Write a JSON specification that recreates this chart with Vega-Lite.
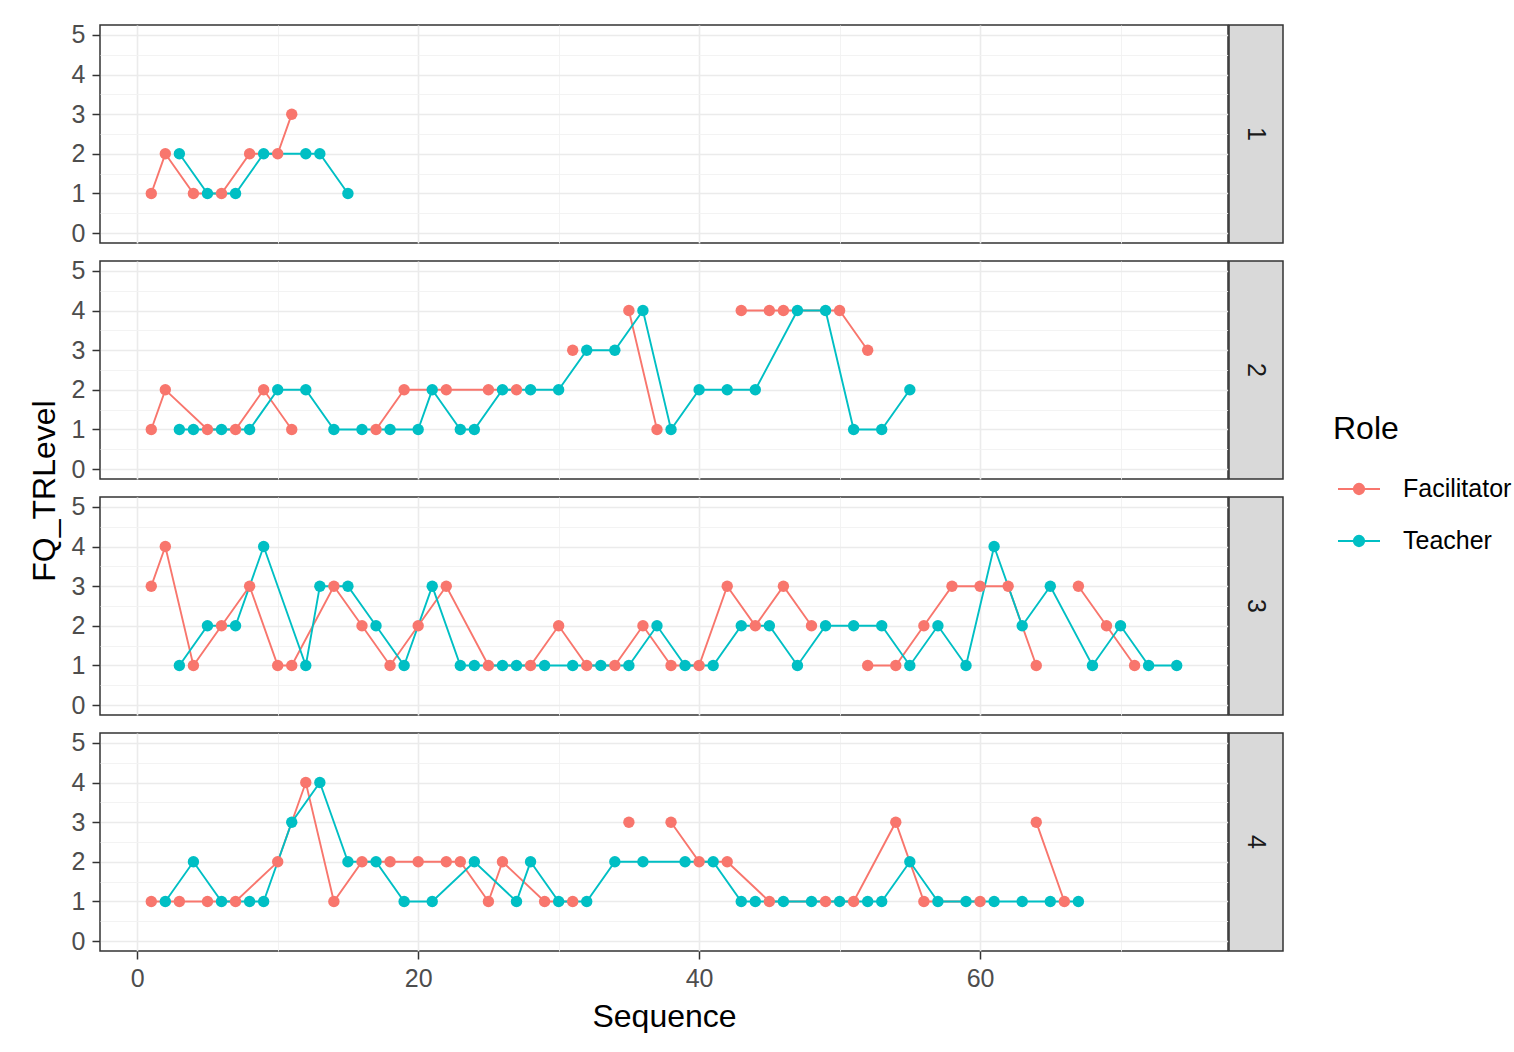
{
  "$schema": "https://vega.github.io/schema/vega-lite/v6.json",
  "padding": {"left": 29, "top": 22, "right": 0, "bottom": 0},
  "autosize": {"type": "pad"},
  "config": {
    "font": "Liberation Sans",
    "view": {"stroke": "#333333", "strokeWidth": 1.5},
    "axis": {"labelFontSize": 25, "labelColor": "#4D4D4D", "titleFontSize": 32, "titleFontWeight": "normal", "titleColor": "#000000", "tickColor": "#333333", "tickWidth": 1.5, "tickSize": 8, "domain": false, "labelPadding": 7}
  },
  "datasets": {
    "strips": [{"Group": 1}, {"Group": 2}, {"Group": 3}, {"Group": 4}],
    "ytitle": [{"t": "FQ_TRLevel"}],
    "d": [
      {"Group":1,"Role":"Facilitator","Sequence":1,"FQ_TRLevel":1},
      {"Group":1,"Role":"Facilitator","Sequence":2,"FQ_TRLevel":2},
      {"Group":1,"Role":"Facilitator","Sequence":4,"FQ_TRLevel":1},
      {"Group":1,"Role":"Facilitator","Sequence":6,"FQ_TRLevel":1},
      {"Group":1,"Role":"Facilitator","Sequence":8,"FQ_TRLevel":2},
      {"Group":1,"Role":"Facilitator","Sequence":10,"FQ_TRLevel":2},
      {"Group":1,"Role":"Facilitator","Sequence":11,"FQ_TRLevel":3},
      {"Group":1,"Role":"Teacher","Sequence":3,"FQ_TRLevel":2},
      {"Group":1,"Role":"Teacher","Sequence":5,"FQ_TRLevel":1},
      {"Group":1,"Role":"Teacher","Sequence":7,"FQ_TRLevel":1},
      {"Group":1,"Role":"Teacher","Sequence":9,"FQ_TRLevel":2},
      {"Group":1,"Role":"Teacher","Sequence":12,"FQ_TRLevel":2},
      {"Group":1,"Role":"Teacher","Sequence":13,"FQ_TRLevel":2},
      {"Group":1,"Role":"Teacher","Sequence":15,"FQ_TRLevel":1},

      {"Group":2,"Role":"Facilitator","Sequence":1,"FQ_TRLevel":1},
      {"Group":2,"Role":"Facilitator","Sequence":2,"FQ_TRLevel":2},
      {"Group":2,"Role":"Facilitator","Sequence":5,"FQ_TRLevel":1},
      {"Group":2,"Role":"Facilitator","Sequence":7,"FQ_TRLevel":1},
      {"Group":2,"Role":"Facilitator","Sequence":9,"FQ_TRLevel":2},
      {"Group":2,"Role":"Facilitator","Sequence":11,"FQ_TRLevel":1},
      {"Group":2,"Role":"Facilitator","Sequence":15,"FQ_TRLevel":null},
      {"Group":2,"Role":"Facilitator","Sequence":17,"FQ_TRLevel":1},
      {"Group":2,"Role":"Facilitator","Sequence":19,"FQ_TRLevel":2},
      {"Group":2,"Role":"Facilitator","Sequence":22,"FQ_TRLevel":2},
      {"Group":2,"Role":"Facilitator","Sequence":25,"FQ_TRLevel":2},
      {"Group":2,"Role":"Facilitator","Sequence":27,"FQ_TRLevel":2},
      {"Group":2,"Role":"Facilitator","Sequence":29,"FQ_TRLevel":null},
      {"Group":2,"Role":"Facilitator","Sequence":31,"FQ_TRLevel":3},
      {"Group":2,"Role":"Facilitator","Sequence":33,"FQ_TRLevel":null},
      {"Group":2,"Role":"Facilitator","Sequence":35,"FQ_TRLevel":4},
      {"Group":2,"Role":"Facilitator","Sequence":37,"FQ_TRLevel":1},
      {"Group":2,"Role":"Facilitator","Sequence":39,"FQ_TRLevel":null},
      {"Group":2,"Role":"Facilitator","Sequence":43,"FQ_TRLevel":4},
      {"Group":2,"Role":"Facilitator","Sequence":45,"FQ_TRLevel":4},
      {"Group":2,"Role":"Facilitator","Sequence":46,"FQ_TRLevel":4},
      {"Group":2,"Role":"Facilitator","Sequence":50,"FQ_TRLevel":4},
      {"Group":2,"Role":"Facilitator","Sequence":52,"FQ_TRLevel":3},
      {"Group":2,"Role":"Teacher","Sequence":3,"FQ_TRLevel":1},
      {"Group":2,"Role":"Teacher","Sequence":4,"FQ_TRLevel":1},
      {"Group":2,"Role":"Teacher","Sequence":6,"FQ_TRLevel":1},
      {"Group":2,"Role":"Teacher","Sequence":8,"FQ_TRLevel":1},
      {"Group":2,"Role":"Teacher","Sequence":10,"FQ_TRLevel":2},
      {"Group":2,"Role":"Teacher","Sequence":12,"FQ_TRLevel":2},
      {"Group":2,"Role":"Teacher","Sequence":14,"FQ_TRLevel":1},
      {"Group":2,"Role":"Teacher","Sequence":16,"FQ_TRLevel":1},
      {"Group":2,"Role":"Teacher","Sequence":18,"FQ_TRLevel":1},
      {"Group":2,"Role":"Teacher","Sequence":20,"FQ_TRLevel":1},
      {"Group":2,"Role":"Teacher","Sequence":21,"FQ_TRLevel":2},
      {"Group":2,"Role":"Teacher","Sequence":23,"FQ_TRLevel":1},
      {"Group":2,"Role":"Teacher","Sequence":24,"FQ_TRLevel":1},
      {"Group":2,"Role":"Teacher","Sequence":26,"FQ_TRLevel":2},
      {"Group":2,"Role":"Teacher","Sequence":28,"FQ_TRLevel":2},
      {"Group":2,"Role":"Teacher","Sequence":30,"FQ_TRLevel":2},
      {"Group":2,"Role":"Teacher","Sequence":32,"FQ_TRLevel":3},
      {"Group":2,"Role":"Teacher","Sequence":34,"FQ_TRLevel":3},
      {"Group":2,"Role":"Teacher","Sequence":36,"FQ_TRLevel":4},
      {"Group":2,"Role":"Teacher","Sequence":38,"FQ_TRLevel":1},
      {"Group":2,"Role":"Teacher","Sequence":40,"FQ_TRLevel":2},
      {"Group":2,"Role":"Teacher","Sequence":42,"FQ_TRLevel":2},
      {"Group":2,"Role":"Teacher","Sequence":44,"FQ_TRLevel":2},
      {"Group":2,"Role":"Teacher","Sequence":47,"FQ_TRLevel":4},
      {"Group":2,"Role":"Teacher","Sequence":49,"FQ_TRLevel":4},
      {"Group":2,"Role":"Teacher","Sequence":51,"FQ_TRLevel":1},
      {"Group":2,"Role":"Teacher","Sequence":53,"FQ_TRLevel":1},
      {"Group":2,"Role":"Teacher","Sequence":55,"FQ_TRLevel":2},

      {"Group":3,"Role":"Facilitator","Sequence":1,"FQ_TRLevel":3},
      {"Group":3,"Role":"Facilitator","Sequence":2,"FQ_TRLevel":4},
      {"Group":3,"Role":"Facilitator","Sequence":4,"FQ_TRLevel":1},
      {"Group":3,"Role":"Facilitator","Sequence":6,"FQ_TRLevel":2},
      {"Group":3,"Role":"Facilitator","Sequence":8,"FQ_TRLevel":3},
      {"Group":3,"Role":"Facilitator","Sequence":10,"FQ_TRLevel":1},
      {"Group":3,"Role":"Facilitator","Sequence":11,"FQ_TRLevel":1},
      {"Group":3,"Role":"Facilitator","Sequence":14,"FQ_TRLevel":3},
      {"Group":3,"Role":"Facilitator","Sequence":16,"FQ_TRLevel":2},
      {"Group":3,"Role":"Facilitator","Sequence":18,"FQ_TRLevel":1},
      {"Group":3,"Role":"Facilitator","Sequence":20,"FQ_TRLevel":2},
      {"Group":3,"Role":"Facilitator","Sequence":22,"FQ_TRLevel":3},
      {"Group":3,"Role":"Facilitator","Sequence":25,"FQ_TRLevel":1},
      {"Group":3,"Role":"Facilitator","Sequence":28,"FQ_TRLevel":1},
      {"Group":3,"Role":"Facilitator","Sequence":30,"FQ_TRLevel":2},
      {"Group":3,"Role":"Facilitator","Sequence":32,"FQ_TRLevel":1},
      {"Group":3,"Role":"Facilitator","Sequence":34,"FQ_TRLevel":1},
      {"Group":3,"Role":"Facilitator","Sequence":36,"FQ_TRLevel":2},
      {"Group":3,"Role":"Facilitator","Sequence":38,"FQ_TRLevel":1},
      {"Group":3,"Role":"Facilitator","Sequence":40,"FQ_TRLevel":1},
      {"Group":3,"Role":"Facilitator","Sequence":42,"FQ_TRLevel":3},
      {"Group":3,"Role":"Facilitator","Sequence":44,"FQ_TRLevel":2},
      {"Group":3,"Role":"Facilitator","Sequence":46,"FQ_TRLevel":3},
      {"Group":3,"Role":"Facilitator","Sequence":48,"FQ_TRLevel":2},
      {"Group":3,"Role":"Facilitator","Sequence":50,"FQ_TRLevel":null},
      {"Group":3,"Role":"Facilitator","Sequence":52,"FQ_TRLevel":1},
      {"Group":3,"Role":"Facilitator","Sequence":54,"FQ_TRLevel":1},
      {"Group":3,"Role":"Facilitator","Sequence":56,"FQ_TRLevel":2},
      {"Group":3,"Role":"Facilitator","Sequence":58,"FQ_TRLevel":3},
      {"Group":3,"Role":"Facilitator","Sequence":60,"FQ_TRLevel":3},
      {"Group":3,"Role":"Facilitator","Sequence":62,"FQ_TRLevel":3},
      {"Group":3,"Role":"Facilitator","Sequence":64,"FQ_TRLevel":1},
      {"Group":3,"Role":"Facilitator","Sequence":66,"FQ_TRLevel":null},
      {"Group":3,"Role":"Facilitator","Sequence":67,"FQ_TRLevel":3},
      {"Group":3,"Role":"Facilitator","Sequence":69,"FQ_TRLevel":2},
      {"Group":3,"Role":"Facilitator","Sequence":71,"FQ_TRLevel":1},
      {"Group":3,"Role":"Teacher","Sequence":3,"FQ_TRLevel":1},
      {"Group":3,"Role":"Teacher","Sequence":5,"FQ_TRLevel":2},
      {"Group":3,"Role":"Teacher","Sequence":7,"FQ_TRLevel":2},
      {"Group":3,"Role":"Teacher","Sequence":9,"FQ_TRLevel":4},
      {"Group":3,"Role":"Teacher","Sequence":12,"FQ_TRLevel":1},
      {"Group":3,"Role":"Teacher","Sequence":13,"FQ_TRLevel":3},
      {"Group":3,"Role":"Teacher","Sequence":15,"FQ_TRLevel":3},
      {"Group":3,"Role":"Teacher","Sequence":17,"FQ_TRLevel":2},
      {"Group":3,"Role":"Teacher","Sequence":19,"FQ_TRLevel":1},
      {"Group":3,"Role":"Teacher","Sequence":21,"FQ_TRLevel":3},
      {"Group":3,"Role":"Teacher","Sequence":23,"FQ_TRLevel":1},
      {"Group":3,"Role":"Teacher","Sequence":24,"FQ_TRLevel":1},
      {"Group":3,"Role":"Teacher","Sequence":26,"FQ_TRLevel":1},
      {"Group":3,"Role":"Teacher","Sequence":27,"FQ_TRLevel":1},
      {"Group":3,"Role":"Teacher","Sequence":29,"FQ_TRLevel":1},
      {"Group":3,"Role":"Teacher","Sequence":31,"FQ_TRLevel":1},
      {"Group":3,"Role":"Teacher","Sequence":33,"FQ_TRLevel":1},
      {"Group":3,"Role":"Teacher","Sequence":35,"FQ_TRLevel":1},
      {"Group":3,"Role":"Teacher","Sequence":37,"FQ_TRLevel":2},
      {"Group":3,"Role":"Teacher","Sequence":39,"FQ_TRLevel":1},
      {"Group":3,"Role":"Teacher","Sequence":41,"FQ_TRLevel":1},
      {"Group":3,"Role":"Teacher","Sequence":43,"FQ_TRLevel":2},
      {"Group":3,"Role":"Teacher","Sequence":45,"FQ_TRLevel":2},
      {"Group":3,"Role":"Teacher","Sequence":47,"FQ_TRLevel":1},
      {"Group":3,"Role":"Teacher","Sequence":49,"FQ_TRLevel":2},
      {"Group":3,"Role":"Teacher","Sequence":51,"FQ_TRLevel":2},
      {"Group":3,"Role":"Teacher","Sequence":53,"FQ_TRLevel":2},
      {"Group":3,"Role":"Teacher","Sequence":55,"FQ_TRLevel":1},
      {"Group":3,"Role":"Teacher","Sequence":57,"FQ_TRLevel":2},
      {"Group":3,"Role":"Teacher","Sequence":59,"FQ_TRLevel":1},
      {"Group":3,"Role":"Teacher","Sequence":61,"FQ_TRLevel":4},
      {"Group":3,"Role":"Teacher","Sequence":63,"FQ_TRLevel":2},
      {"Group":3,"Role":"Teacher","Sequence":65,"FQ_TRLevel":3},
      {"Group":3,"Role":"Teacher","Sequence":68,"FQ_TRLevel":1},
      {"Group":3,"Role":"Teacher","Sequence":70,"FQ_TRLevel":2},
      {"Group":3,"Role":"Teacher","Sequence":72,"FQ_TRLevel":1},
      {"Group":3,"Role":"Teacher","Sequence":74,"FQ_TRLevel":1},

      {"Group":4,"Role":"Facilitator","Sequence":1,"FQ_TRLevel":1},
      {"Group":4,"Role":"Facilitator","Sequence":3,"FQ_TRLevel":1},
      {"Group":4,"Role":"Facilitator","Sequence":5,"FQ_TRLevel":1},
      {"Group":4,"Role":"Facilitator","Sequence":7,"FQ_TRLevel":1},
      {"Group":4,"Role":"Facilitator","Sequence":10,"FQ_TRLevel":2},
      {"Group":4,"Role":"Facilitator","Sequence":12,"FQ_TRLevel":4},
      {"Group":4,"Role":"Facilitator","Sequence":14,"FQ_TRLevel":1},
      {"Group":4,"Role":"Facilitator","Sequence":16,"FQ_TRLevel":2},
      {"Group":4,"Role":"Facilitator","Sequence":18,"FQ_TRLevel":2},
      {"Group":4,"Role":"Facilitator","Sequence":20,"FQ_TRLevel":2},
      {"Group":4,"Role":"Facilitator","Sequence":22,"FQ_TRLevel":2},
      {"Group":4,"Role":"Facilitator","Sequence":23,"FQ_TRLevel":2},
      {"Group":4,"Role":"Facilitator","Sequence":25,"FQ_TRLevel":1},
      {"Group":4,"Role":"Facilitator","Sequence":26,"FQ_TRLevel":2},
      {"Group":4,"Role":"Facilitator","Sequence":29,"FQ_TRLevel":1},
      {"Group":4,"Role":"Facilitator","Sequence":31,"FQ_TRLevel":1},
      {"Group":4,"Role":"Facilitator","Sequence":33,"FQ_TRLevel":null},
      {"Group":4,"Role":"Facilitator","Sequence":35,"FQ_TRLevel":3},
      {"Group":4,"Role":"Facilitator","Sequence":37,"FQ_TRLevel":null},
      {"Group":4,"Role":"Facilitator","Sequence":38,"FQ_TRLevel":3},
      {"Group":4,"Role":"Facilitator","Sequence":40,"FQ_TRLevel":2},
      {"Group":4,"Role":"Facilitator","Sequence":42,"FQ_TRLevel":2},
      {"Group":4,"Role":"Facilitator","Sequence":45,"FQ_TRLevel":1},
      {"Group":4,"Role":"Facilitator","Sequence":49,"FQ_TRLevel":1},
      {"Group":4,"Role":"Facilitator","Sequence":51,"FQ_TRLevel":1},
      {"Group":4,"Role":"Facilitator","Sequence":54,"FQ_TRLevel":3},
      {"Group":4,"Role":"Facilitator","Sequence":56,"FQ_TRLevel":1},
      {"Group":4,"Role":"Facilitator","Sequence":60,"FQ_TRLevel":1},
      {"Group":4,"Role":"Facilitator","Sequence":62,"FQ_TRLevel":null},
      {"Group":4,"Role":"Facilitator","Sequence":64,"FQ_TRLevel":3},
      {"Group":4,"Role":"Facilitator","Sequence":66,"FQ_TRLevel":1},
      {"Group":4,"Role":"Teacher","Sequence":2,"FQ_TRLevel":1},
      {"Group":4,"Role":"Teacher","Sequence":4,"FQ_TRLevel":2},
      {"Group":4,"Role":"Teacher","Sequence":6,"FQ_TRLevel":1},
      {"Group":4,"Role":"Teacher","Sequence":8,"FQ_TRLevel":1},
      {"Group":4,"Role":"Teacher","Sequence":9,"FQ_TRLevel":1},
      {"Group":4,"Role":"Teacher","Sequence":11,"FQ_TRLevel":3},
      {"Group":4,"Role":"Teacher","Sequence":13,"FQ_TRLevel":4},
      {"Group":4,"Role":"Teacher","Sequence":15,"FQ_TRLevel":2},
      {"Group":4,"Role":"Teacher","Sequence":17,"FQ_TRLevel":2},
      {"Group":4,"Role":"Teacher","Sequence":19,"FQ_TRLevel":1},
      {"Group":4,"Role":"Teacher","Sequence":21,"FQ_TRLevel":1},
      {"Group":4,"Role":"Teacher","Sequence":24,"FQ_TRLevel":2},
      {"Group":4,"Role":"Teacher","Sequence":27,"FQ_TRLevel":1},
      {"Group":4,"Role":"Teacher","Sequence":28,"FQ_TRLevel":2},
      {"Group":4,"Role":"Teacher","Sequence":30,"FQ_TRLevel":1},
      {"Group":4,"Role":"Teacher","Sequence":32,"FQ_TRLevel":1},
      {"Group":4,"Role":"Teacher","Sequence":34,"FQ_TRLevel":2},
      {"Group":4,"Role":"Teacher","Sequence":36,"FQ_TRLevel":2},
      {"Group":4,"Role":"Teacher","Sequence":39,"FQ_TRLevel":2},
      {"Group":4,"Role":"Teacher","Sequence":41,"FQ_TRLevel":2},
      {"Group":4,"Role":"Teacher","Sequence":43,"FQ_TRLevel":1},
      {"Group":4,"Role":"Teacher","Sequence":44,"FQ_TRLevel":1},
      {"Group":4,"Role":"Teacher","Sequence":46,"FQ_TRLevel":1},
      {"Group":4,"Role":"Teacher","Sequence":48,"FQ_TRLevel":1},
      {"Group":4,"Role":"Teacher","Sequence":50,"FQ_TRLevel":1},
      {"Group":4,"Role":"Teacher","Sequence":52,"FQ_TRLevel":1},
      {"Group":4,"Role":"Teacher","Sequence":53,"FQ_TRLevel":1},
      {"Group":4,"Role":"Teacher","Sequence":55,"FQ_TRLevel":2},
      {"Group":4,"Role":"Teacher","Sequence":57,"FQ_TRLevel":1},
      {"Group":4,"Role":"Teacher","Sequence":59,"FQ_TRLevel":1},
      {"Group":4,"Role":"Teacher","Sequence":61,"FQ_TRLevel":1},
      {"Group":4,"Role":"Teacher","Sequence":63,"FQ_TRLevel":1},
      {"Group":4,"Role":"Teacher","Sequence":65,"FQ_TRLevel":1},
      {"Group":4,"Role":"Teacher","Sequence":67,"FQ_TRLevel":1}
    ]
  },
  "spacing": 9,
  "hconcat": [
    {
      "width": 30, "height": 932,
      "view": {"stroke": null},
      "data": {"name": "ytitle"},
      "mark": {"type": "text", "angle": 270, "fontSize": 32, "color": "#000000", "align": "center", "baseline": "middle"},
      "encoding": {"text": {"field": "t", "type": "nominal"}}
    },
    {
      "spacing": 11,
      "vconcat": [
        {
          "spacing": -1,
          "hconcat": [
            {
              "width": 1128, "height": 218,
              "data": {"name": "d"},
              "transform": [{"filter": "datum.Group === 1"}],
              "mark": {"type": "line", "strokeWidth": 1.9, "invalid": "break-paths-filter-domains", "point": {"filled": true, "size": 130, "opacity": 1}},
              "encoding": {
                "x": {"field": "Sequence", "type": "quantitative", "scale": {"domain": [-2.65, 77.65], "nice": false, "zero": false},
                      "axis": {"values": [0,10,20,30,40,50,60,70], "labels": false, "ticks": false, "title": null,
                               "gridColor": {"condition": {"test": "datum.value % 20 === 0", "value": "#EBEBEB"}, "value": "#F2F2F2"},
                               "gridWidth": {"condition": {"test": "datum.value % 20 === 0", "value": 1.6}, "value": 0.9}}},
                "y": {"field": "FQ_TRLevel", "type": "quantitative", "scale": {"domain": [-0.25, 5.25], "nice": false, "zero": false},
                      "axis": {"values": [0,0.5,1,1.5,2,2.5,3,3.5,4,4.5,5], "title": null, "labelOverlap": false, "labelFlush": false,
                               "labelExpr": "datum.value % 1 === 0 ? format(datum.value, 'd') : ''",
                               "tickOpacity": {"condition": {"test": "datum.value % 1 === 0", "value": 1}, "value": 0},
                               "gridColor": {"condition": {"test": "datum.value % 1 === 0", "value": "#EBEBEB"}, "value": "#F2F2F2"},
                               "gridWidth": {"condition": {"test": "datum.value % 1 === 0", "value": 1.6}, "value": 0.9}}},
                "color": {"field": "Role", "type": "nominal", "scale": {"domain": ["Facilitator", "Teacher"], "range": ["#F8766D", "#00BFC4"]},
                          "legend": {"orient": "none", "legendX": 1303, "legendY": 389, "title": "Role", "titleFontSize": 32, "titleFontWeight": "normal", "titleColor": "#000000", "titlePadding": 21,
                                     "labelFontSize": 25, "labelColor": "#000000", "labelOffset": 22, "symbolOffset": 4, "rowPadding": 17,
                                     "symbolType": "M-1,0H1M0.25,0A0.25,0.25,0,1,1,-0.25,0A0.25,0.25,0,1,1,0.25,0Z", "symbolSize": 1764, "symbolStrokeWidth": 1.8}}
              }
            },
            {
              "width": 54, "height": 218,
              "view": {"fill": "#D9D9D9", "stroke": "#333333", "strokeWidth": 1.5},
              "data": {"name": "strips"},
              "transform": [{"filter": "datum.Group === 1"}],
              "mark": {"type": "text", "angle": 90, "fontSize": 25, "color": "#1A1A1A", "align": "center", "baseline": "middle"},
              "encoding": {"text": {"field": "Group", "type": "nominal"}}
            }
          ]
        },
        {
          "spacing": -1,
          "hconcat": [
            {
              "width": 1128, "height": 218,
              "data": {"name": "d"},
              "transform": [{"filter": "datum.Group === 2"}],
              "mark": {"type": "line", "strokeWidth": 1.9, "invalid": "break-paths-filter-domains", "point": {"filled": true, "size": 130, "opacity": 1}},
              "encoding": {
                "x": {"field": "Sequence", "type": "quantitative", "scale": {"domain": [-2.65, 77.65], "nice": false, "zero": false},
                      "axis": {"values": [0,10,20,30,40,50,60,70], "labels": false, "ticks": false, "title": null,
                               "gridColor": {"condition": {"test": "datum.value % 20 === 0", "value": "#EBEBEB"}, "value": "#F2F2F2"},
                               "gridWidth": {"condition": {"test": "datum.value % 20 === 0", "value": 1.6}, "value": 0.9}}},
                "y": {"field": "FQ_TRLevel", "type": "quantitative", "scale": {"domain": [-0.25, 5.25], "nice": false, "zero": false},
                      "axis": {"values": [0,0.5,1,1.5,2,2.5,3,3.5,4,4.5,5], "title": null, "labelOverlap": false, "labelFlush": false,
                               "labelExpr": "datum.value % 1 === 0 ? format(datum.value, 'd') : ''",
                               "tickOpacity": {"condition": {"test": "datum.value % 1 === 0", "value": 1}, "value": 0},
                               "gridColor": {"condition": {"test": "datum.value % 1 === 0", "value": "#EBEBEB"}, "value": "#F2F2F2"},
                               "gridWidth": {"condition": {"test": "datum.value % 1 === 0", "value": 1.6}, "value": 0.9}}},
                "color": {"field": "Role", "type": "nominal", "scale": {"domain": ["Facilitator", "Teacher"], "range": ["#F8766D", "#00BFC4"]},
                          "legend": {"orient": "none", "legendX": 1303, "legendY": 389, "title": "Role", "titleFontSize": 32, "titleFontWeight": "normal", "titleColor": "#000000", "titlePadding": 21,
                                     "labelFontSize": 25, "labelColor": "#000000", "labelOffset": 22, "symbolOffset": 4, "rowPadding": 17,
                                     "symbolType": "M-1,0H1M0.25,0A0.25,0.25,0,1,1,-0.25,0A0.25,0.25,0,1,1,0.25,0Z", "symbolSize": 1764, "symbolStrokeWidth": 1.8}}
              }
            },
            {
              "width": 54, "height": 218,
              "view": {"fill": "#D9D9D9", "stroke": "#333333", "strokeWidth": 1.5},
              "data": {"name": "strips"},
              "transform": [{"filter": "datum.Group === 2"}],
              "mark": {"type": "text", "angle": 90, "fontSize": 25, "color": "#1A1A1A", "align": "center", "baseline": "middle"},
              "encoding": {"text": {"field": "Group", "type": "nominal"}}
            }
          ]
        },
        {
          "spacing": -1,
          "hconcat": [
            {
              "width": 1128, "height": 218,
              "data": {"name": "d"},
              "transform": [{"filter": "datum.Group === 3"}],
              "mark": {"type": "line", "strokeWidth": 1.9, "invalid": "break-paths-filter-domains", "point": {"filled": true, "size": 130, "opacity": 1}},
              "encoding": {
                "x": {"field": "Sequence", "type": "quantitative", "scale": {"domain": [-2.65, 77.65], "nice": false, "zero": false},
                      "axis": {"values": [0,10,20,30,40,50,60,70], "labels": false, "ticks": false, "title": null,
                               "gridColor": {"condition": {"test": "datum.value % 20 === 0", "value": "#EBEBEB"}, "value": "#F2F2F2"},
                               "gridWidth": {"condition": {"test": "datum.value % 20 === 0", "value": 1.6}, "value": 0.9}}},
                "y": {"field": "FQ_TRLevel", "type": "quantitative", "scale": {"domain": [-0.25, 5.25], "nice": false, "zero": false},
                      "axis": {"values": [0,0.5,1,1.5,2,2.5,3,3.5,4,4.5,5], "title": null, "labelOverlap": false, "labelFlush": false,
                               "labelExpr": "datum.value % 1 === 0 ? format(datum.value, 'd') : ''",
                               "tickOpacity": {"condition": {"test": "datum.value % 1 === 0", "value": 1}, "value": 0},
                               "gridColor": {"condition": {"test": "datum.value % 1 === 0", "value": "#EBEBEB"}, "value": "#F2F2F2"},
                               "gridWidth": {"condition": {"test": "datum.value % 1 === 0", "value": 1.6}, "value": 0.9}}},
                "color": {"field": "Role", "type": "nominal", "scale": {"domain": ["Facilitator", "Teacher"], "range": ["#F8766D", "#00BFC4"]},
                          "legend": {"orient": "none", "legendX": 1303, "legendY": 389, "title": "Role", "titleFontSize": 32, "titleFontWeight": "normal", "titleColor": "#000000", "titlePadding": 21,
                                     "labelFontSize": 25, "labelColor": "#000000", "labelOffset": 22, "symbolOffset": 4, "rowPadding": 17,
                                     "symbolType": "M-1,0H1M0.25,0A0.25,0.25,0,1,1,-0.25,0A0.25,0.25,0,1,1,0.25,0Z", "symbolSize": 1764, "symbolStrokeWidth": 1.8}}
              }
            },
            {
              "width": 54, "height": 218,
              "view": {"fill": "#D9D9D9", "stroke": "#333333", "strokeWidth": 1.5},
              "data": {"name": "strips"},
              "transform": [{"filter": "datum.Group === 3"}],
              "mark": {"type": "text", "angle": 90, "fontSize": 25, "color": "#1A1A1A", "align": "center", "baseline": "middle"},
              "encoding": {"text": {"field": "Group", "type": "nominal"}}
            }
          ]
        },
        {
          "spacing": -1,
          "hconcat": [
            {
              "width": 1128, "height": 218,
              "data": {"name": "d"},
              "transform": [{"filter": "datum.Group === 4"}],
              "mark": {"type": "line", "strokeWidth": 1.9, "invalid": "break-paths-filter-domains", "point": {"filled": true, "size": 130, "opacity": 1}},
              "encoding": {
                "x": {"field": "Sequence", "type": "quantitative", "scale": {"domain": [-2.65, 77.65], "nice": false, "zero": false},
                      "axis": {"values": [0,10,20,30,40,50,60,70], "title": "Sequence", "titlePadding": 10, "labelOverlap": false, "labelFlush": false,
                               "labelExpr": "datum.value % 20 === 0 ? datum.label : ''",
                               "tickOpacity": {"condition": {"test": "datum.value % 20 === 0", "value": 1}, "value": 0},
                               "gridColor": {"condition": {"test": "datum.value % 20 === 0", "value": "#EBEBEB"}, "value": "#F2F2F2"},
                               "gridWidth": {"condition": {"test": "datum.value % 20 === 0", "value": 1.6}, "value": 0.9}}},
                "y": {"field": "FQ_TRLevel", "type": "quantitative", "scale": {"domain": [-0.25, 5.25], "nice": false, "zero": false},
                      "axis": {"values": [0,0.5,1,1.5,2,2.5,3,3.5,4,4.5,5], "title": null, "labelOverlap": false, "labelFlush": false,
                               "labelExpr": "datum.value % 1 === 0 ? format(datum.value, 'd') : ''",
                               "tickOpacity": {"condition": {"test": "datum.value % 1 === 0", "value": 1}, "value": 0},
                               "gridColor": {"condition": {"test": "datum.value % 1 === 0", "value": "#EBEBEB"}, "value": "#F2F2F2"},
                               "gridWidth": {"condition": {"test": "datum.value % 1 === 0", "value": 1.6}, "value": 0.9}}},
                "color": {"field": "Role", "type": "nominal", "scale": {"domain": ["Facilitator", "Teacher"], "range": ["#F8766D", "#00BFC4"]},
                          "legend": {"orient": "none", "legendX": 1303, "legendY": 389, "title": "Role", "titleFontSize": 32, "titleFontWeight": "normal", "titleColor": "#000000", "titlePadding": 21,
                                     "labelFontSize": 25, "labelColor": "#000000", "labelOffset": 22, "symbolOffset": 4, "rowPadding": 17,
                                     "symbolType": "M-1,0H1M0.25,0A0.25,0.25,0,1,1,-0.25,0A0.25,0.25,0,1,1,0.25,0Z", "symbolSize": 1764, "symbolStrokeWidth": 1.8}}
              }
            },
            {
              "width": 54, "height": 218,
              "view": {"fill": "#D9D9D9", "stroke": "#333333", "strokeWidth": 1.5},
              "data": {"name": "strips"},
              "transform": [{"filter": "datum.Group === 4"}],
              "mark": {"type": "text", "angle": 90, "fontSize": 25, "color": "#1A1A1A", "align": "center", "baseline": "middle"},
              "encoding": {"text": {"field": "Group", "type": "nominal"}}
            }
          ]
        }
      ]
    }
  ]
}
